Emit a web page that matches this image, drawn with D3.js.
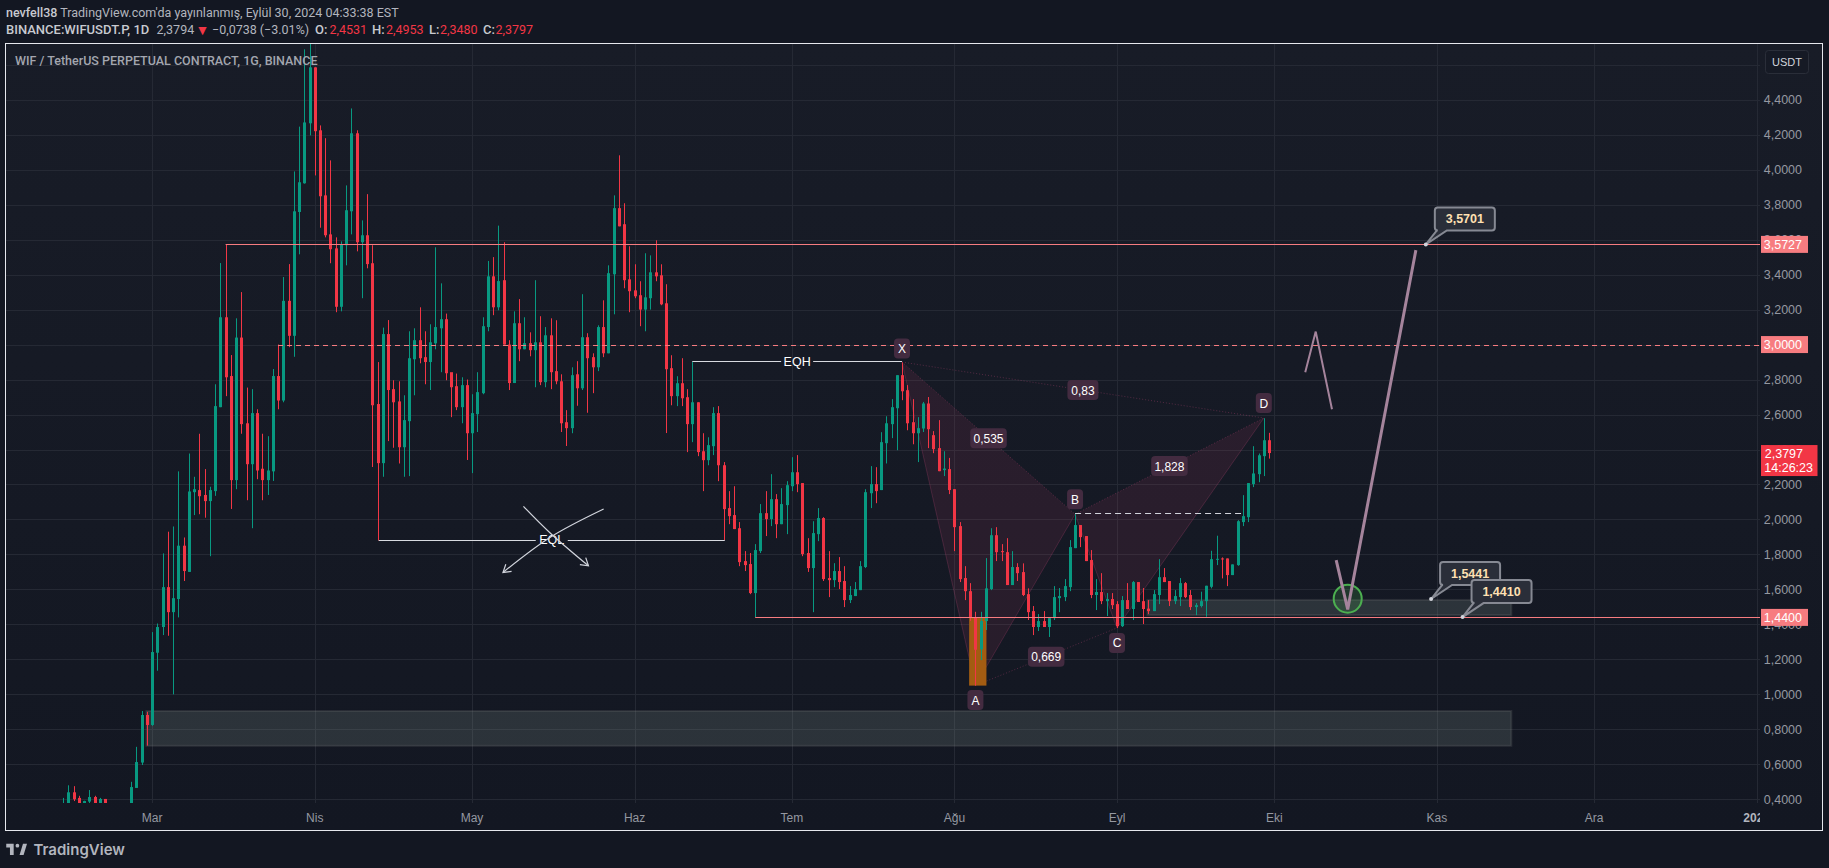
<!DOCTYPE html>
<html><head><meta charset="utf-8">
<script src="https://cdn.jsdelivr.net/npm/d3@7"></script>
<style>
html,body{margin:0;padding:0;background:#131722;overflow:hidden}
text{font-family:"Liberation Sans",Arial,sans-serif}
text.rb{font-family:Roboto,"Liberation Sans",sans-serif}
</style></head><body>
<svg id="c" width="1829" height="868"></svg>
<script>
// ---------- data (daily candles, first bar 13 Feb 2024, last bar 30 Sep 2024) ----------
const firstBar = Date.UTC(2024,1,13);
const opens=[.36,.375,.44,.408,.375,.387,.413,.375,.402,.37,
.36,.35,.36,.365,.465,.61,.882,.825,1.238,1.385,
1.613,1.47,1.545,1.85,1.70,2.156,2.168,2.14,2.105,2.162,
2.642,3.156,2.82,2.225,3.04,2.55,2.316,2.608,2.29,2.225,
2.275,2.82,2.68,3.25,3.05,3.758,3.922,4.265,4.585,4.225,
3.853,3.63,3.55,3.216,3.568,3.762,4.208,3.585,3.625,3.465,
2.66,2.322,3.06,2.745,2.675,2.413,2.562,2.916,3.025,2.928,
2.9,3.007,3.093,3.145,2.842,2.762,2.642,2.768,2.493,2.602,
2.722,3.1,3.39,3.213,3.368,3.0,2.78,3.122,2.973,3.008,
2.968,3.013,2.785,3.053,2.848,2.79,2.556,2.522,2.83,2.75,
3.042,2.928,2.87,3.1,2.95,3.402,3.78,3.688,3.373,3.31,
3.282,3.2,3.265,3.413,3.396,3.236,2.865,2.705,2.779,2.699,
2.545,2.67,2.39,2.339,2.419,2.608,2.31,2.065,2.025,1.95,
1.762,1.745,1.579,1.819,2.036,2.002,2.116,1.973,2.082,2.19,
2.27,2.208,1.808,1.722,1.916,2.008,1.665,1.653,1.705,1.648,
1.539,1.562,1.596,1.728,2.15,2.202,2.168,2.436,2.545,2.636,
2.825,2.739,2.556,2.493,2.52,2.663,2.482,2.408,2.282,2.288,
2.173,1.962,1.665,1.59,1.44,1.257,1.419,1.602,1.91,1.819,
1.813,1.625,1.728,1.699,1.573,1.476,1.385,1.419,1.385,1.436,
1.55,1.556,1.613,1.836,1.968,1.905,1.768,1.568,1.585,1.533,
1.545,1.516,1.39,1.539,1.488,1.642,1.533,1.49,1.476,1.568,
1.67,1.648,1.533,1.556,1.636,1.568,1.499,1.505,1.533,1.615,
1.771,1.777,1.777,1.682,1.739,1.985,2.013,2.202,2.259,2.362,2.4531];
const highs=[.408,.48,.475,.42,.392,.453,.42,.408,.402,.375,
.37,.365,.372,.50,.70,.905,.90,1.356,1.405,1.806,
1.93,1.96,2.275,1.897,2.377,2.244,2.49,2.288,2.187,2.773,
3.466,3.57,2.94,3.15,3.3,2.754,2.745,2.63,2.49,2.476,
2.86,3.0,3.386,3.46,3.99,4.246,4.688,4.75,4.585,4.253,
4.18,4.053,3.613,3.59,3.91,4.35,4.225,3.71,3.86,3.568,
2.9,3.097,3.14,2.796,2.79,2.71,3.076,3.093,3.213,3.076,
3.116,3.556,3.35,3.177,2.834,2.834,2.813,2.8,2.716,2.842,
3.156,3.478,3.5,3.68,3.585,3.025,3.19,3.26,3.156,3.07,
3.368,3.162,3.1,3.15,3.139,2.83,2.625,2.87,2.905,3.288,
3.065,2.95,3.11,3.253,3.453,3.853,4.082,3.808,3.562,3.459,
3.362,3.522,3.51,3.596,3.459,3.345,2.939,2.819,2.922,2.745,
2.9,2.67,2.493,2.47,2.642,2.648,2.328,2.162,2.19,1.985,
1.819,1.808,1.859,2.088,2.162,2.259,2.145,2.179,2.219,2.356,
2.368,2.208,1.893,1.99,2.065,2.013,1.819,1.75,1.785,1.733,
1.619,1.642,1.762,2.173,2.305,2.299,2.499,2.59,2.688,2.825,
2.897,2.768,2.688,2.585,2.672,2.7,2.505,2.568,2.39,2.352,
2.173,1.985,1.733,1.636,1.472,1.472,1.779,1.95,1.956,1.859,
1.893,1.819,1.75,1.749,1.606,1.505,1.459,1.476,1.442,1.619,
1.608,1.659,1.882,2.03,1.968,1.905,1.825,1.659,1.693,1.579,
1.579,1.533,1.562,1.636,1.648,1.642,1.608,1.539,1.596,1.773,
1.722,1.648,1.596,1.665,1.642,1.596,1.522,1.587,1.621,1.821,
1.907,1.783,1.777,1.743,1.996,2.139,2.208,2.419,2.377,2.579,2.4953];
const lows=[.35,.37,.39,.37,.37,.375,.37,.37,.37,.35,
.34,.34,.35,.36,.465,.596,.707,.82,1.135,1.339,
1.335,1.0,1.44,1.648,1.70,2.025,2.03,2.01,1.79,2.135,
2.642,2.705,2.06,2.173,2.49,2.11,1.95,2.23,2.11,2.14,
2.22,2.63,2.67,2.985,2.93,3.516,3.92,4.196,3.967,3.668,
3.613,3.465,3.185,3.19,3.453,3.63,3.533,3.265,3.436,2.30,
1.88,2.244,2.448,2.41,2.32,2.244,2.248,2.71,2.893,2.773,
2.74,2.973,2.842,2.796,2.585,2.625,2.55,2.34,2.265,2.5,
2.716,3.076,3.168,3.196,3.0,2.74,2.78,2.905,2.973,2.933,
2.756,2.768,2.756,2.745,2.773,2.5,2.42,2.493,2.65,2.74,
2.61,2.722,2.848,2.928,2.95,3.173,3.676,3.322,3.185,3.265,
3.105,3.076,3.2,3.362,3.225,2.494,2.653,2.648,2.648,2.385,
2.442,2.362,2.162,2.31,2.368,2.219,1.882,1.973,1.945,1.733,
1.705,1.573,1.442,1.808,1.905,1.962,1.893,1.973,1.916,2.162,
2.156,1.79,1.7,1.47,1.876,1.648,1.556,1.613,1.602,1.499,
1.522,1.562,1.596,1.722,2.065,2.093,2.168,2.32,2.465,2.396,
2.682,2.51,2.43,2.328,2.5,2.408,2.379,2.276,2.248,2.145,
1.819,1.642,1.539,1.42,1.05,1.196,1.368,1.596,1.762,1.762,
1.625,1.625,1.648,1.562,1.425,1.339,1.362,1.385,1.328,1.425,
1.47,1.533,1.59,1.836,1.842,1.762,1.55,1.482,1.516,1.448,
1.488,1.379,1.385,1.488,1.425,1.528,1.402,1.459,1.476,1.516,
1.642,1.505,1.516,1.505,1.55,1.482,1.453,1.497,1.444,1.606,
1.739,1.663,1.619,1.682,1.735,1.962,1.985,2.185,2.213,2.248,2.348];
const closes=[.375,.44,.40,.375,.39,.413,.375,.402,.375,.36,
.35,.36,.365,.47,.613,.882,.825,1.242,1.385,1.613,
1.47,1.55,1.85,1.705,2.16,2.173,2.133,2.105,2.168,2.648,
3.156,2.813,2.225,3.04,2.545,2.316,2.608,2.28,2.225,2.28,
2.82,2.68,3.25,3.05,3.762,3.928,4.27,4.585,4.22,3.848,
3.625,3.545,3.216,3.573,3.768,4.208,3.585,3.625,3.46,2.653,
2.322,3.06,2.74,2.67,2.413,2.568,2.922,3.025,2.922,2.9,
3.013,3.1,3.145,2.836,2.756,2.642,2.768,2.493,2.608,2.728,
3.105,3.39,3.213,3.363,3.0,2.78,3.122,2.973,3.008,2.968,
3.013,2.785,3.053,2.842,2.79,2.55,2.522,2.825,2.75,3.042,
2.922,2.87,3.1,2.95,3.408,3.78,3.676,3.368,3.305,3.276,
3.2,3.27,3.413,3.39,3.23,2.859,2.705,2.779,2.693,2.545,
2.67,2.385,2.339,2.425,2.608,2.31,2.059,2.019,1.945,1.756,
1.739,1.579,1.825,2.036,2.002,2.116,1.973,2.088,2.196,2.27,
2.202,1.802,1.722,1.922,2.008,1.659,1.653,1.705,1.642,1.539,
1.568,1.602,1.733,2.156,2.202,2.162,2.442,2.55,2.642,2.825,
2.733,2.55,2.493,2.522,2.663,2.516,2.402,2.276,2.291,2.168,
1.956,1.659,1.59,1.44,1.255,1.419,1.606,1.91,1.813,1.813,
1.625,1.728,1.693,1.568,1.47,1.385,1.419,1.385,1.436,1.556,
1.562,1.619,1.842,1.968,1.899,1.762,1.568,1.585,1.533,1.545,
1.51,1.39,1.539,1.488,1.642,1.528,1.488,1.476,1.573,1.67,
1.642,1.533,1.562,1.636,1.556,1.499,1.51,1.533,1.621,1.773,
1.775,1.773,1.682,1.743,1.99,2.019,2.208,2.263,2.367,2.453,2.3797];

const priceTicks=[.4,.6,.8,1,1.2,1.4,1.6,1.8,2,2.2,2.4,2.6,2.8,3,3.2,3.4,3.6,3.8,4,4.2,4.4,4.6];
const monthTicks=[[2024,2,"Mar"],[2024,3,"Nis"],[2024,4,"May"],[2024,5,"Haz"],[2024,6,"Tem"],[2024,7,"Ağu"],[2024,8,"Eyl"],[2024,9,"Eki"],[2024,10,"Kas"],[2024,11,"Ara"],[2025,0,"2025"]];

// drawings: positions in chart units [bar offset from 1 Mar, price]
const hLevels=[{d:14,p:3.5727,dash:null,tag:"3,5727"},{d:24,p:3.0,dash:"5 4",tag:"3,0000"},{d:115,p:1.44,dash:null,tag:"1,4400"}];
const zones=[{d0:-1.1,d1:259.2,p0:.905,p1:.706},{d0:189.8,d1:259.2,p0:1.54,p1:1.453}];
const orangeBox={d0:155.8,d1:159.1,p0:1.44,p1:1.05};
const ptX=[143,2.9],ptA=[157,1.05],ptB=[176,2.03],ptC=[184,1.38],ptD=[212,2.58];
const ratios=[["0,535",ptX,ptB],["0,83",ptX,ptD],["1,828",ptB,ptD],["0,669",ptA,ptC]];
const eql={d0:43.2,d1:109.2,p:1.883,text:"EQL"}, eqh={d0:103,d1:143,p:2.904,text:"EQH"};
const crossA=[[70.8,2.075],[76,1.92],[83.2,1.735]], crossB=[[86.1,2.06],[76,1.9],[66.9,1.697]];
const bDash={d0:176,d1:208,p:2.035};
const bigPath=[[225.8,1.768],[228,1.486],[241,3.54]], smallPath=[[219.9,2.841],[221.9,3.074],[225,2.63]];
const circlePt=[228,1.547];
const callouts=[["3,5701",242.9,3.5727],["1,5441",243.9,1.545],["1,4410",249.9,1.442]];

// ---------- scales ----------
const day=864e5, mar1=Date.UTC(2024,2,1);
const x=d3.scaleUtc().domain([new Date(mar1),new Date(Date.UTC(2025,0,1))]).range([152.2,1756.7]);
const y=d3.scaleLinear().domain([.4,4.4]).range([799.3,99.7]);
const xd=d=>x(new Date(mar1+d*day));
const fmt=d3.formatLocale({decimal:",",thousands:".",grouping:[3],currency:["",""]}).format(".4f");
const bars=opens.map((o,i)=>({t:new Date(firstBar+i*day),o,h:highs[i],l:lows[i],c:closes[i]}));

const L=6,R=1760,T=44,B=803;
const svg=d3.select("#c");
const defs=svg.append("defs");
const grad=defs.append("linearGradient").attr("id","bg").attr("x1",0).attr("x2",0).attr("y1",0).attr("y2",1);
grad.append("stop").attr("offset",0).attr("stop-color","#181c27");
grad.append("stop").attr("offset",1).attr("stop-color","#131722");
defs.append("clipPath").attr("id","pane").append("rect").attr("x",L).attr("y",T).attr("width",R-L).attr("height",B-T);
defs.append("clipPath").attr("id","axisT").append("rect").attr("x",L).attr("y",B).attr("width",R-L).attr("height",28);
defs.append("marker").attr("id","arr").attr("viewBox","-10 -6 12 12").attr("markerWidth",11).attr("markerHeight",11)
 .attr("markerUnits","userSpaceOnUse").attr("orient","auto")
 .append("path").attr("d","M-8,-5L0,0L-8,5").attr("fill","none").attr("stroke","#d1d4dc").attr("stroke-width",1.3);

svg.append("rect").attr("width",1829).attr("height",868).attr("fill","#131722");
svg.append("rect").attr("x",L).attr("y",T).attr("width",1817).attr("height",787).attr("fill","url(#bg)");

// grid
const grid=svg.append("g").attr("clip-path","url(#pane)");
grid.selectAll("line.h").data(priceTicks).join("line").attr("x1",L).attr("x2",R)
 .attr("y1",d=>Math.round(y(d))+.5).attr("y2",d=>Math.round(y(d))+.5).attr("stroke","#252934");
const monthX=m=>x(new Date(Date.UTC(m[0],m[1],1)));
grid.selectAll("line.v").data(monthTicks).join("line").attr("x1",d=>Math.round(monthX(d))+.5).attr("x2",d=>Math.round(monthX(d))+.5)
 .attr("y1",T).attr("y2",B).attr("stroke","#252934");

const chart=svg.append("g").attr("clip-path","url(#pane)");
// zones
chart.selectAll("rect.zone").data(zones).join("rect").attr("x",d=>xd(d.d0)).attr("width",d=>xd(d.d1)-xd(d.d0))
 .attr("y",d=>y(d.p0)).attr("height",d=>y(d.p1)-y(d.p0))
 .attr("fill","rgba(122,138,132,.24)").attr("stroke","rgba(128,128,128,.2)").attr("stroke-width",2);
// XABCD
const P=p=>[xd(p[0]),y(p[1])];
const tri=d3.line();
chart.selectAll("path.tri").data([[ptX,ptA,ptB],[ptB,ptC,ptD]]).join("path")
 .attr("d",d=>tri(d.map(P))+"Z").attr("fill","rgba(190,65,110,.12)");
chart.selectAll("path.edge").data([[ptX,ptA,ptB,ptC,ptD]]).join("path").attr("d",d=>tri(d.map(P)))
 .attr("fill","none").attr("stroke","rgba(190,70,120,.25)").attr("stroke-width",1);
chart.selectAll("path.dot").data(ratios).join("path").attr("d",d=>tri([d[1],d[2]].map(P)))
 .attr("fill","none").attr("stroke","rgba(190,70,120,.36)").attr("stroke-width",1).attr("stroke-dasharray","1 2");
// orange
chart.append("rect").attr("x",xd(orangeBox.d0)).attr("width",xd(orangeBox.d1)-xd(orangeBox.d0))
 .attr("y",y(orangeBox.p0)).attr("height",y(orangeBox.p1)-y(orangeBox.p0)).attr("fill","#a35c12");
// candles
const col=d=>d.c>=d.o?"#089981":"#f23645";
chart.selectAll("line.w").data(bars).join("line").attr("x1",d=>Math.round(x(d.t))+.5).attr("x2",d=>Math.round(x(d.t))+.5)
 .attr("y1",d=>y(d.h)).attr("y2",d=>y(d.l)).attr("stroke",col).attr("stroke-width",1);
chart.selectAll("rect.b").data(bars).join("rect").attr("x",d=>Math.round(x(d.t))-1).attr("width",3)
 .attr("y",d=>y(Math.max(d.o,d.c))).attr("height",d=>Math.max(1,Math.abs(y(d.o)-y(d.c)))).attr("fill",col);

// horizontal levels
chart.selectAll("line.lv").data(hLevels).join("line").attr("x1",d=>xd(d.d)).attr("x2",R)
 .attr("y1",d=>Math.round(y(d.p))+.5).attr("y2",d=>Math.round(y(d.p))+.5).attr("stroke","#f77c80").attr("stroke-width",1)
 .attr("stroke-dasharray",d=>d.dash);
// EQL / EQH
[eql,eqh].forEach(e=>{
 const mid=(xd(e.d0)+xd(e.d1))/2;
 chart.selectAll(null).data([[xd(e.d0),mid-16],[mid+16,xd(e.d1)]]).join("line").attr("x1",d=>d[0]).attr("x2",d=>d[1])
  .attr("y1",Math.round(y(e.p))+.5).attr("y2",Math.round(y(e.p))+.5).attr("stroke","#d8dae0").attr("stroke-width",1);
 chart.append("text").attr("x",mid).attr("y",y(e.p)+4.5).attr("text-anchor","middle").attr("fill","#fff").attr("font-size",12.5).text(e.text);
});
// crossing arrows
const curve=d3.line().curve(d3.curveCatmullRom);
chart.selectAll("path.cross").data([crossA,crossB]).join("path").attr("d",d=>curve(d.map(P)))
 .attr("fill","none").attr("stroke","#d1d4dc").attr("stroke-width",1.2).attr("marker-end","url(#arr)");
// B dashed
chart.append("line").attr("x1",xd(bDash.d0)).attr("x2",xd(bDash.d1)).attr("y1",Math.round(y(bDash.p))+.5).attr("y2",Math.round(y(bDash.p))+.5)
 .attr("stroke","#d1d4dc").attr("stroke-width",1).attr("stroke-dasharray","6 4");
// green circle
chart.append("circle").attr("cx",xd(circlePt[0])).attr("cy",y(circlePt[1])).attr("r",14)
 .attr("fill","rgba(76,175,80,.2)").attr("stroke","#4caf50").attr("stroke-width",2);
// mauve paths
chart.selectAll("path.m").data([bigPath,smallPath]).join("path").attr("d",d=>tri(d.map(P))).attr("fill","none")
 .attr("stroke","#a5849c").attr("stroke-width",(d,i)=>i?2:3).attr("stroke-linejoin","miter");
// pattern labels
const tags=chart.append("g");
function pill(px,py,txt){
 const w=txt.length>1?(txt.length*5.5+9):16,h=20;
 tags.append("rect").attr("x",px-w/2).attr("y",py-h/2).attr("width",w).attr("height",h).attr("rx",4).attr("fill","#432b40");
 tags.append("text").attr("x",px).attr("y",py+4.5).attr("text-anchor","middle").attr("fill","#fff").attr("font-size",12).text(txt);
}
[["X",ptX,-13.5],["A",ptA,14.5],["B",ptB,-15],["C",ptC,15],["D",ptD,-15]].forEach(a=>pill(xd(a[1][0]),y(a[1][1])+a[2],a[0]));
ratios.forEach(r=>pill((xd(r[1][0])+xd(r[2][0]))/2,(y(r[1][1])+y(r[2][1]))/2,r[0]));
// callouts
const cg=chart.append("g");
callouts.forEach(c=>{
 const px=xd(c[1]),py=y(c[2]),l=9,t=-37,w=60,h=23,r=3;
 const g=cg.append("g").attr("transform",`translate(${px},${py})`);
 g.append("path").attr("d",`M${l+r},${t}H${l+w-r}Q${l+w},${t} ${l+w},${t+r}V${t+h-r}Q${l+w},${t+h} ${l+w-r},${t+h}H21L0,0L11,${t+h}H${l+r}Q${l},${t+h} ${l},${t+h-r}V${t+r}Q${l},${t} ${l+r},${t}Z`)
  .attr("fill","#2a2e39").attr("stroke","#868993").attr("stroke-width",2);
 g.append("circle").attr("r",2).attr("fill","#d1d4dc");
 g.append("text").attr("x",l+w/2).attr("y",t+16).attr("text-anchor","middle").attr("fill","#ffe0b2").attr("font-weight","bold").attr("font-size",12.5).text(c[0]);
});

// price axis
const axY=d3.axisRight(y).tickValues(priceTicks.filter(v=>v<4.5)).tickSize(0).tickFormat(fmt);
const gy=svg.append("g").attr("transform",`translate(${R},0)`).call(axY);
gy.select(".domain").remove();
gy.selectAll("text").attr("x",42).attr("text-anchor","end").attr("fill","#9598a1").attr("font-size",12.5).style("font-family",'"Liberation Sans",Arial,sans-serif');
// time axis
const gt=svg.append("g").attr("clip-path","url(#axisT)");
gt.selectAll("text").data(monthTicks).join("text").attr("x",monthX).attr("y",821.5).attr("text-anchor","middle")
 .attr("fill",d=>d[2]=="2025"?"#b2b5be":"#9598a1").attr("font-weight",d=>d[2]=="2025"?"bold":"normal").attr("font-size",12).text(d=>d[2]);
// axis tags
const at=svg.append("g");
at.selectAll("rect.t").data(hLevels).join("rect").attr("x",1761).attr("width",47).attr("y",d=>y(d.p)-8.5).attr("height",17).attr("fill","#f77c80");
at.selectAll("text.t").data(hLevels).join("text").attr("x",1802).attr("y",d=>y(d.p)+4.5).attr("text-anchor","end").attr("fill","#fff").attr("font-size",12.5).text(d=>d.tag);
at.append("rect").attr("x",1761).attr("y",y(closes[closes.length-1])-8).attr("width",56.5).attr("height",31).attr("fill","#f23645");
at.append("text").attr("x",1803).attr("y",y(closes[closes.length-1])+4.5).attr("text-anchor","end").attr("fill","#fff").attr("font-size",12.5).text("2,3797");
at.append("text").attr("x",1813).attr("y",y(closes[closes.length-1])+19).attr("text-anchor","end").attr("fill","#fff").attr("font-size",12.5).text("14:26:23");
// USDT button
svg.append("rect").attr("x",1765.5).attr("y",50.5).attr("width",43).attr("height",23).attr("rx",3).attr("fill","#161a25").attr("stroke","#2a2e39");
svg.append("text").attr("x",1787).attr("y",66).attr("text-anchor","middle").attr("fill","#d1d4dc").attr("font-size",11).text("USDT");

// frame
svg.append("rect").attr("x",5.5).attr("y",43.5).attr("width",1817).attr("height",787).attr("fill","none").attr("stroke","#e6e8ee").attr("stroke-width",1);

// header
const t1=svg.append("text").attr("class","rb").attr("x",6).attr("y",17).attr("font-size",12.5).attr("fill","#b2b5be");
t1.append("tspan").attr("font-weight","500").attr("fill","#c8cad0").text("nevfell38");
t1.append("tspan").text(" TradingView.com'da yayınlanmış, Eylül 30, 2024 04:33:38 EST");
const head=[[6,"BINANCE:WIFUSDT.P, 1D","#c8cad0","500"],[156.6,"2,3794","#b2b5be"],[212,"−0,0738 (−3.01%)","#b2b5be"],
 [315,"O:","#c8cad0","500"],[329.4,"2,4531","#f23645"],[372,"H:","#c8cad0","500"],[386,"2,4953","#f23645"],
 [429,"L:","#c8cad0","500"],[440,"2,3480","#f23645"],[483,"C:","#c8cad0","500"],[495.5,"2,3797","#f23645"]];
svg.selectAll("text.hd").data(head).join("text").attr("class","rb").attr("x",d=>d[0]).attr("y",34).attr("font-size",d=>d[3]?13:12.5).attr("fill",d=>d[2]).attr("font-weight",d=>d[3]||"normal").text(d=>d[1]);
svg.append("text").attr("x",202.4).attr("y",34.5).attr("text-anchor","middle").attr("font-size",14).attr("fill","#f23645").text("▼");
svg.append("text").attr("class","rb").attr("x",15).attr("y",65).attr("font-size",12.5).attr("font-weight","500").attr("fill","#a3a6af").text("WIF / TetherUS PERPETUAL CONTRACT, 1G, BINANCE");

// logo
svg.append("path").attr("transform","translate(5,842) scale(.62)").attr("fill","#b2b5be")
 .attr("d","M14 3H2v6h6v12h6V3zm16 18h-6.5L29 3h6.5L30 21zM20 9a3 3 0 1 0 0-6 3 3 0 0 0 0 6z");
svg.append("text").attr("x",33.5).attr("y",854.5).attr("font-size",15).attr("font-weight","600").style("font-family","Inter,sans-serif").attr("fill","#b2b5be").text("TradingView");
</script></body></html>
